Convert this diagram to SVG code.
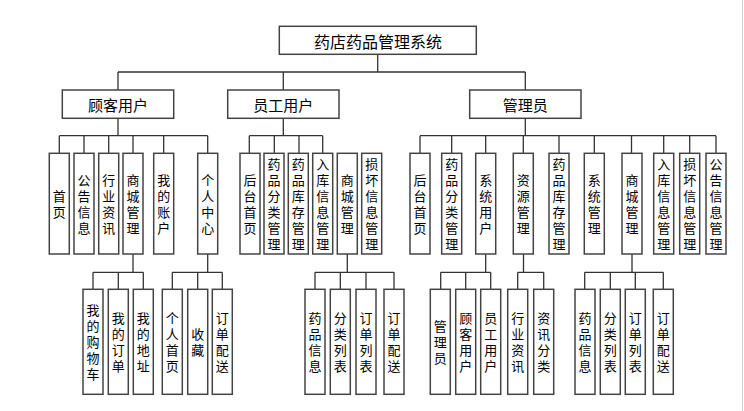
<svg xmlns="http://www.w3.org/2000/svg" width="744" height="411" viewBox="0 0 744 411">
<style>
.box{fill:#fff;stroke:#444;stroke-width:1.5}
.ln{stroke:#333;stroke-width:1.3;fill:none}
.t{font-family:"Noto Sans CJK SC","Noto Sans CJK JP",sans-serif;font-size:13px;fill:#000;text-anchor:middle}
.h{dominant-baseline:central}
.h2{font-size:15px}
.h1{font-size:16px}
.v{writing-mode:vertical-rl;text-orientation:upright;letter-spacing:3px}
</style>
<rect width="744" height="411" fill="#fff"/>
<line x1="742.5" y1="0" x2="742.5" y2="411" stroke="#d0d0d0" stroke-width="1"/>
<g id="connectors" class="ln">
<path d="M377.7,54V72M118,72H525.3M118,72V90M283.3,72V90M525.3,72V90"/>
<path d="M118,118V135.7M59.3,135.7H207.7M59.3,135.7V153M84,135.7V153M108.7,135.7V153M133,135.7V153M163.7,135.7V153M207.7,135.7V153"/>
<path d="M283.3,118V135.7M249.3,135.7H322.7M249.3,135.7V153M274.3,135.7V153M299,135.7V153M322.7,135.7V153"/>
<path d="M525.3,118V135.7M420,135.7H716M420,135.7V153M451.7,135.7V153M485.7,135.7V153M523.3,135.7V153M559,135.7V153M594.3,135.7V153M631.5,135.7V153M663.7,135.7V153M689.7,135.7V153M716,135.7V153"/>
<path d="M133,254V272.3M93,272.3H143.3M93,272.3V289M118.3,272.3V289M143.3,272.3V289"/>
<path d="M207.7,254V272.3M172.3,272.3H222.3M172.3,272.3V289M197.7,272.3V289M222.3,272.3V289"/>
<path d="M347.3,254V272.3M315,272.3H394M315,272.3V289M340.3,272.3V289M366,272.3V289M394,272.3V289"/>
<path d="M485.7,254V272.3M440.7,272.3H490.7M440.7,272.3V289M465.7,272.3V289M490.7,272.3V289"/>
<path d="M523.5,254V272.3M517.7,272.3H543.7M517.7,272.3V289M543.7,272.3V289"/>
<path d="M632,254V272.3M584.7,272.3H663.3M584.7,272.3V289M610.3,272.3V289M635.3,272.3V289M663.3,272.3V289"/>
</g>
<g id="root"><rect class="box" x="279.3" y="26.3" width="197" height="28"/><text class="t h h1" x="378" y="40.5">药店药品管理系统</text></g>
<g id="customer"><rect class="box" x="62.3" y="90" width="111.4" height="28.3"/><text class="t h h2" x="118" y="104.3">顾客用户</text></g>
<g id="staff"><rect class="box" x="227.7" y="90" width="111.3" height="28.3"/><text class="t h h2" x="283.3" y="104.3">员工用户</text></g>
<g id="admin"><rect class="box" x="469.7" y="90" width="111.3" height="28.3"/><text class="t h h2" x="525.3" y="104.3">管理员</text></g>

<g id="c-home"><rect class="box" x="49.3" y="153.3" width="20" height="100.7"/><text class="t v" x="59.3" y="205.5">首页</text></g>
<g id="c-notice"><rect class="box" x="74" y="153.3" width="20" height="100.7"/><text class="t v" x="84" y="205.5">公告信息</text></g>
<g id="c-news"><rect class="box" x="98.7" y="153.3" width="20" height="100.7"/><text class="t v" x="108.7" y="205.5">行业资讯</text></g>
<g id="c-mall"><rect class="box" x="123" y="153.3" width="20" height="100.7"/><text class="t v" x="133" y="205.5">商城管理</text></g>
<g id="c-account"><rect class="box" x="153.7" y="153.3" width="20" height="100.7"/><text class="t v" x="163.7" y="205.5">我的账户</text></g>
<g id="c-center"><rect class="box" x="197.7" y="153.3" width="20" height="100.7"/><text class="t v" x="207.7" y="205.5">个人中心</text></g>

<g id="s-home"><rect class="box" x="240" y="153.3" width="20" height="100.7"/><text class="t v" x="250" y="205.5">后台首页</text></g>
<g id="s-cat"><rect class="box" x="264" y="153.3" width="20" height="100.7"/><text class="t v" x="274" y="205.5">药品分类管理</text></g>
<g id="s-stock"><rect class="box" x="288.3" y="153.3" width="20" height="100.7"/><text class="t v" x="298.3" y="205.5">药品库存管理</text></g>
<g id="s-in"><rect class="box" x="312.7" y="153.3" width="20" height="100.7"/><text class="t v" x="322.7" y="205.5">入库信息管理</text></g>
<g id="s-mall"><rect class="box" x="337.3" y="153.3" width="20" height="100.7"/><text class="t v" x="347.3" y="205.5">商城管理</text></g>
<g id="s-damage"><rect class="box" x="361.7" y="153.3" width="20" height="100.7"/><text class="t v" x="371.7" y="205.5">损坏信息管理</text></g>

<g id="a-home"><rect class="box" x="410" y="153.3" width="20" height="100.7"/><text class="t v" x="420" y="205.5">后台首页</text></g>
<g id="a-cat"><rect class="box" x="441.7" y="153.3" width="20" height="100.7"/><text class="t v" x="451.7" y="205.5">药品分类管理</text></g>
<g id="a-users"><rect class="box" x="475.7" y="153.3" width="20" height="100.7"/><text class="t v" x="485.7" y="205.5">系统用户</text></g>
<g id="a-res"><rect class="box" x="513.3" y="153.3" width="20" height="100.7"/><text class="t v" x="523.3" y="205.5">资源管理</text></g>
<g id="a-stock"><rect class="box" x="549" y="153.3" width="20" height="100.7"/><text class="t v" x="559" y="205.5">药品库存管理</text></g>
<g id="a-sys"><rect class="box" x="584.3" y="153.3" width="20" height="100.7"/><text class="t v" x="594.3" y="205.5">系统管理</text></g>
<g id="a-mall"><rect class="box" x="622" y="153.3" width="20" height="100.7"/><text class="t v" x="632" y="205.5">商城管理</text></g>
<g id="a-in"><rect class="box" x="653.7" y="153.3" width="20" height="100.7"/><text class="t v" x="663.7" y="205.5">入库信息管理</text></g>
<g id="a-damage"><rect class="box" x="679.7" y="153.3" width="20" height="100.7"/><text class="t v" x="689.7" y="205.5">损坏信息管理</text></g>
<g id="a-notice"><rect class="box" x="706" y="153.3" width="20" height="100.7"/><text class="t v" x="716" y="205.5">公告信息管理</text></g>

<g id="c-cart"><rect class="box" x="83" y="289.3" width="20" height="105"/><text class="t v" x="93" y="343.5">我的购物车</text></g>
<g id="c-orders"><rect class="box" x="108.3" y="289.3" width="20" height="105"/><text class="t v" x="118.3" y="343.5">我的订单</text></g>
<g id="c-addr"><rect class="box" x="133.3" y="289.3" width="20" height="105"/><text class="t v" x="143.3" y="343.5">我的地址</text></g>
<g id="c-phome"><rect class="box" x="162.3" y="289.3" width="20" height="105"/><text class="t v" x="172.3" y="343.5">个人首页</text></g>
<g id="c-fav"><rect class="box" x="187.7" y="289.3" width="20" height="105"/><text class="t v" x="197.7" y="343.5">收藏</text></g>
<g id="c-deliv"><rect class="box" x="212.3" y="289.3" width="20" height="105"/><text class="t v" x="222.3" y="343.5">订单配送</text></g>

<g id="s-drug"><rect class="box" x="305" y="289.3" width="20" height="105"/><text class="t v" x="315" y="343.5">药品信息</text></g>
<g id="s-catlist"><rect class="box" x="330.3" y="289.3" width="20" height="105"/><text class="t v" x="340.3" y="343.5">分类列表</text></g>
<g id="s-orderlist"><rect class="box" x="356" y="289.3" width="20" height="105"/><text class="t v" x="366" y="343.5">订单列表</text></g>
<g id="s-deliv"><rect class="box" x="384" y="289.3" width="20" height="105"/><text class="t v" x="394" y="343.5">订单配送</text></g>

<g id="a-u-admin"><rect class="box" x="430.3" y="289.3" width="20" height="105"/><text class="t v" x="440.3" y="343.5">管理员</text></g>
<g id="a-u-cust"><rect class="box" x="455.7" y="289.3" width="20" height="105"/><text class="t v" x="465.7" y="343.5">顾客用户</text></g>
<g id="a-u-staff"><rect class="box" x="480.7" y="289.3" width="20" height="105"/><text class="t v" x="490.7" y="343.5">员工用户</text></g>
<g id="a-r-news"><rect class="box" x="507.7" y="289.3" width="20" height="105"/><text class="t v" x="517.7" y="343.5">行业资讯</text></g>
<g id="a-r-cat"><rect class="box" x="533.7" y="289.3" width="20" height="105"/><text class="t v" x="543.7" y="343.5">资讯分类</text></g>
<g id="a-m-drug"><rect class="box" x="575" y="289.3" width="20" height="105"/><text class="t v" x="585" y="343.5">药品信息</text></g>
<g id="a-m-catlist"><rect class="box" x="600.3" y="289.3" width="20" height="105"/><text class="t v" x="610.3" y="343.5">分类列表</text></g>
<g id="a-m-orderlist"><rect class="box" x="625.3" y="289.3" width="20" height="105"/><text class="t v" x="635.3" y="343.5">订单列表</text></g>
<g id="a-m-deliv"><rect class="box" x="653.3" y="289.3" width="20" height="105"/><text class="t v" x="663.3" y="343.5">订单配送</text></g>
</svg>
